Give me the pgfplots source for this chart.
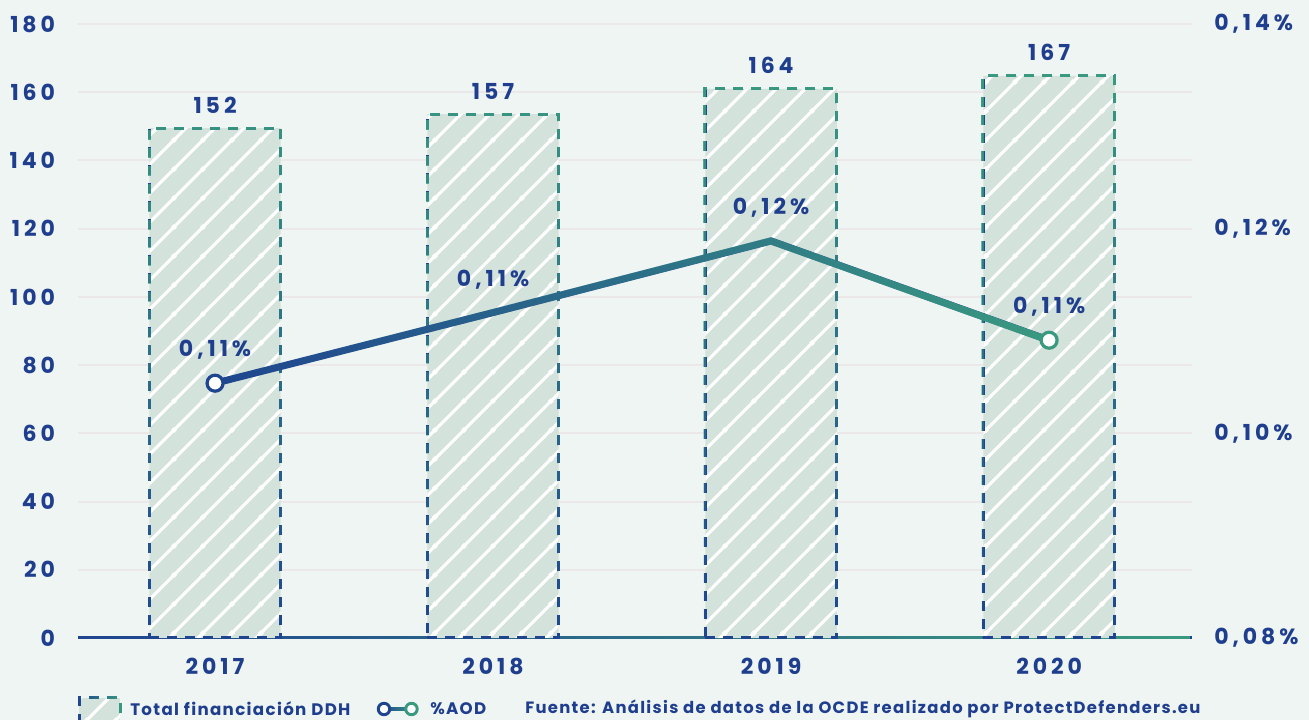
\documentclass[border=0pt]{standalone}
\usepackage{pgfplots}
\pgfplotsset{compat=1.18}
\usepackage{pgfplotstable}
\usepackage{fontspec}
\setmainfont{Poppins}
\newfontfamily\tickfont[LetterSpace=18]{Poppins}
\newfontfamily\legfont[LetterSpace=8]{Poppins}
\usetikzlibrary{fadings,patterns}
\definecolor{bg}{HTML}{EFF5F3}
\definecolor{txt}{HTML}{1F3F8E}
\definecolor{lblue}{HTML}{1F4590}
\definecolor{lgreen}{HTML}{3A9A80}
\definecolor{barfill}{HTML}{D3E2DA}
\definecolor{gridc}{HTML}{ECE8EA}

\pgfdeclarepatternformonly{hatchlines}{\pgfqpoint{0pt}{0pt}}{\pgfqpoint{21.75pt}{21.75pt}}{\pgfqpoint{21.75pt}{21.75pt}}{
  \pgfsetlinewidth{2.4pt}
  \pgfpathmoveto{\pgfqpoint{-2pt}{-2pt}}
  \pgfpathlineto{\pgfqpoint{23.75pt}{23.75pt}}
  \pgfpathmoveto{\pgfqpoint{19.75pt}{-2pt}}
  \pgfpathlineto{\pgfqpoint{23.75pt}{2pt}}
  \pgfpathmoveto{\pgfqpoint{-2pt}{19.75pt}}
  \pgfpathlineto{\pgfqpoint{2pt}{23.75pt}}
  \pgfusepath{stroke}
}

\pgfplotstableread{
x y label
0 149.5 152
1 153.6 157
2 161.0 164
3 164.8 167
}\bars
\pgfplotstableread{
x y pct
0 0.1049 0.11
1 0.1118 0.11
2 0.1188 0.12
3 0.1091 0.11
}\aod

\begin{document}
\begin{tikzpicture}
\useasboundingbox (0,0) rectangle (981.75pt,540pt);
\fill[bg] (0,0) rectangle (981.75pt,540pt);
\begin{axis}[
  at={(58.5pt,61.5pt)}, anchor=south west,
  scale only axis, width=835.5pt, height=460.5pt,
  xmin=-0.493, xmax=3.514, ymin=0, ymax=180,
  axis x line*=bottom, axis y line*=left,
  y axis line style={draw=none},
  x axis line style={line width=2.25pt, draw=lblue, postaction={draw=lgreen, line width=2.25pt, path fading=west}},
  major tick length=0pt,
  ytick={0,20,...,180},
  yticklabels={0,20,40,60,80,100,120,140,160,180},
  ymajorgrids, grid style={gridc, line width=1.5pt},
  yticklabel style={font=\tickfont\bfseries\fontsize{16.5}{16.5}\selectfont, text=txt, anchor=east, inner sep=0pt, xshift=-17pt},
  xtick={0,1,2,3}, xticklabels={2017,2018,2019,2020},
  xticklabel style={font=\tickfont\bfseries\fontsize{16.5}{16.5}\selectfont, text=txt, anchor=north, inner sep=0pt, yshift=-15pt},
  clip=false,
]
\addplot[ybar, bar width=98.5pt,
  preaction={fill=barfill},
  preaction={pattern=hatchlines, pattern color=white},
  draw=lblue, line width=2.25pt, dash pattern=on 7.5pt off 6pt,
  postaction={draw=lgreen, line width=2.25pt, dash pattern=on 7.5pt off 6pt, path fading=south},
  nodes near coords, point meta=explicit,
  nodes near coords style={font=\tickfont\bfseries\fontsize{16.5}{16.5}\selectfont, text=txt, anchor=south, inner sep=0pt, yshift=10pt, /pgf/number format/assume math mode=true}
] table[x=x,y=y,meta=label]{\bars};
\end{axis}
\begin{axis}[
  at={(58.5pt,61.5pt)}, anchor=south west,
  scale only axis, width=835.5pt, height=460.5pt,
  xmin=-0.493, xmax=3.514, ymin=0.08, ymax=0.14,
  axis x line=none, axis y line*=right,
  y axis line style={draw=none},
  major tick length=0pt,
  ytick={0.08,0.10,0.12,0.14},
  yticklabels={{0,08\%},{0,10\%},{0,12\%},{0,14\%}},
  yticklabel style={font=\tickfont\bfseries\fontsize{16.5}{16.5}\selectfont, text=txt, anchor=west, inner sep=0pt, xshift=16.5pt},
  clip=false,
]
\addplot[line width=5.25pt, lblue, mark=none,
  postaction={draw=lgreen, line width=5.25pt, path fading=west},
  nodes near coords={\pgfmathprintnumber[fixed,precision=2,zerofill,use comma,assume math mode=true]{\pgfplotspointmeta}\%},
  point meta=explicit,
  nodes near coords style={font=\tickfont\bfseries\fontsize{16.5}{16.5}\selectfont, text=txt, anchor=south, inner sep=0pt, yshift=15pt}
] table[x=x,y=y,meta=pct]{\aod};
\addplot[only marks, mark=*, mark size=6pt, mark options={draw=lblue, fill=white, line width=2.4pt}] coordinates {(0,0.1049)};
\addplot[only marks, mark=*, mark size=6pt, mark options={draw=lgreen, fill=white, line width=2.4pt}] coordinates {(3,0.1091)};
\end{axis}
% legend
\fill[barfill] (59.25pt,-3pt) rectangle (90pt,16.5pt);
\fill[pattern=hatchlines, pattern color=white] (59.25pt,-3pt) rectangle (90pt,16.5pt);
\draw[lblue, line width=2.25pt, dash pattern=on 7.5pt off 6pt, postaction={draw=lgreen, line width=2.25pt, dash pattern=on 7.5pt off 6pt, path fading=west}] (59.25pt,-3pt) rectangle (90pt,16.5pt);
\node[anchor=west, inner sep=0pt, font=\legfont\bfseries\fontsize{12.5}{12.5}\selectfont, text=txt] at (97.5pt,8.25pt) {Total financiación DDH};
\draw[line width=3.5pt, lblue, postaction={draw=lgreen, line width=3.5pt, path fading=west}] (288pt,8.25pt) -- (308.6pt,8.25pt);
\draw[line width=2.2pt, lblue, fill=white] (288pt,8.25pt) circle (4.3pt);
\draw[line width=2.2pt, lgreen, fill=white] (308.6pt,8.25pt) circle (4.3pt);
\node[anchor=west, inner sep=0pt, font=\legfont\bfseries\fontsize{12.5}{12.5}\selectfont, text=txt] at (322.5pt,8.25pt) {\%AOD};
\node[anchor=west, inner sep=0pt, font=\legfont\bfseries\fontsize{12.3}{12.3}\selectfont, text=txt] at (393.75pt,8.25pt) {Fuente: Análisis de datos de la OCDE realizado por ProtectDefenders.eu};
\end{tikzpicture}
\end{document}
